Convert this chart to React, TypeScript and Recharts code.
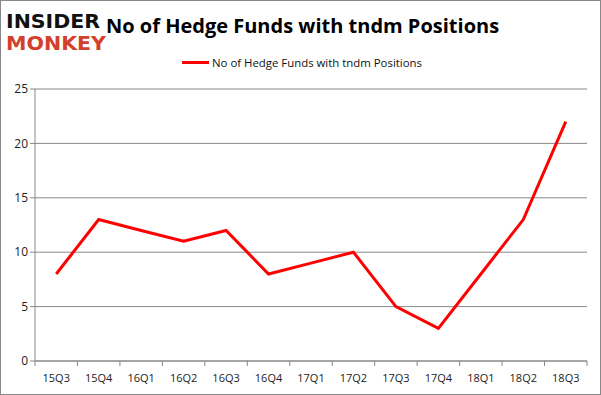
import { LineChart, Line, XAxis, YAxis, CartesianGrid } from "recharts";

const quarters = [
  "15Q3", "15Q4", "16Q1", "16Q2", "16Q3", "16Q4", "17Q1",
  "17Q2", "17Q3", "17Q4", "18Q1", "18Q2", "18Q3",
];
const fundCounts = [8, 13, 12, 11, 12, 8, 9, 10, 5, 3, 8, 13, 22];
const yTicks = [0, 5, 10, 15, 20, 25];

const seriesName = "No of Hedge Funds with tndm Positions";
const data = quarters.map((q, i) => ({ quarter: q, funds: fundCounts[i] }));

const PLOT_LEFT = 35;
const PLOT_RIGHT = 14;
const BAND = (601 - PLOT_LEFT - PLOT_RIGHT) / quarters.length;

const XTick = (props: any) => {
  const { x, y, payload, index } = props;
  return (
    <g>
      <line x1={x + BAND / 2} y1={y - 8} x2={x + BAND / 2} y2={y - 3} stroke="#888" />
      {index === 0 && (
        <line x1={x - BAND / 2} y1={y - 8} x2={x - BAND / 2} y2={y - 3} stroke="#888" />
      )}
      <text x={x} y={y + 13} textAnchor="middle" fontSize={11} fill="#222" fontFamily="'Open Sans', sans-serif">
        {payload.value}
      </text>
    </g>
  );
};

export default function App() {
  return (
    <div
      style={{
        position: "absolute",
        left: 0,
        top: 0,
        width: 601,
        height: 395,
        border: "1px solid #888",
        boxSizing: "border-box",
        background: "#fff",
        fontFamily: "'Open Sans', sans-serif",
      }}
    >
      <svg style={{ position: "absolute", left: 3, top: 7 }} width={110} height={48}>
        <text x={2} y={20} fontSize={19} fontWeight={900} fill="#111" fontFamily="'DejaVu Sans'" textLength={94} lengthAdjust="spacingAndGlyphs">
          INSIDER
        </text>
        <text x={2} y={42} fontSize={19} fontWeight={900} fill="#d2412b" fontFamily="'DejaVu Sans'" textLength={100} lengthAdjust="spacingAndGlyphs">
          MONKEY
        </text>
      </svg>
      <div
        style={{
          position: "absolute",
          left: 105,
          top: 11,
          fontSize: 20,
          fontWeight: 700,
          color: "#000",
          whiteSpace: "nowrap",
        }}
      >
        {seriesName}
      </div>
      <div style={{ position: "absolute", left: 181, top: 54, display: "flex", alignItems: "center", fontSize: 11.4, color: "#111" }}>
        <span style={{ display: "inline-block", width: 27, height: 3, background: "#ff0000", marginRight: 3 }} />
        {seriesName}
      </div>
      <div style={{ position: "absolute", left: -1, top: -1 }}>
        <LineChart width={601} height={395} data={data} margin={{ top: 89, right: PLOT_RIGHT, bottom: 0, left: 0 }}>
          <CartesianGrid vertical={false} stroke="#888" />
          <XAxis
            dataKey="quarter"
            height={34}
            stroke="#888"
            tickLine={false}
            tick={<XTick />}
            interval={0}
            padding={{ left: BAND / 2, right: BAND / 2 }}
          />
          <YAxis
            width={PLOT_LEFT}
            domain={[0, 25]}
            ticks={yTicks}
            stroke="#888"
            tickSize={5}
            tick={{ fontSize: 12, fill: "#222" }}
          />
          <Line
            type="linear"
            dataKey="funds"
            name={seriesName}
            stroke="#ff0000"
            strokeWidth={3}
            dot={false}
            isAnimationActive={false}
          />
        </LineChart>
      </div>
    </div>
  );
}
